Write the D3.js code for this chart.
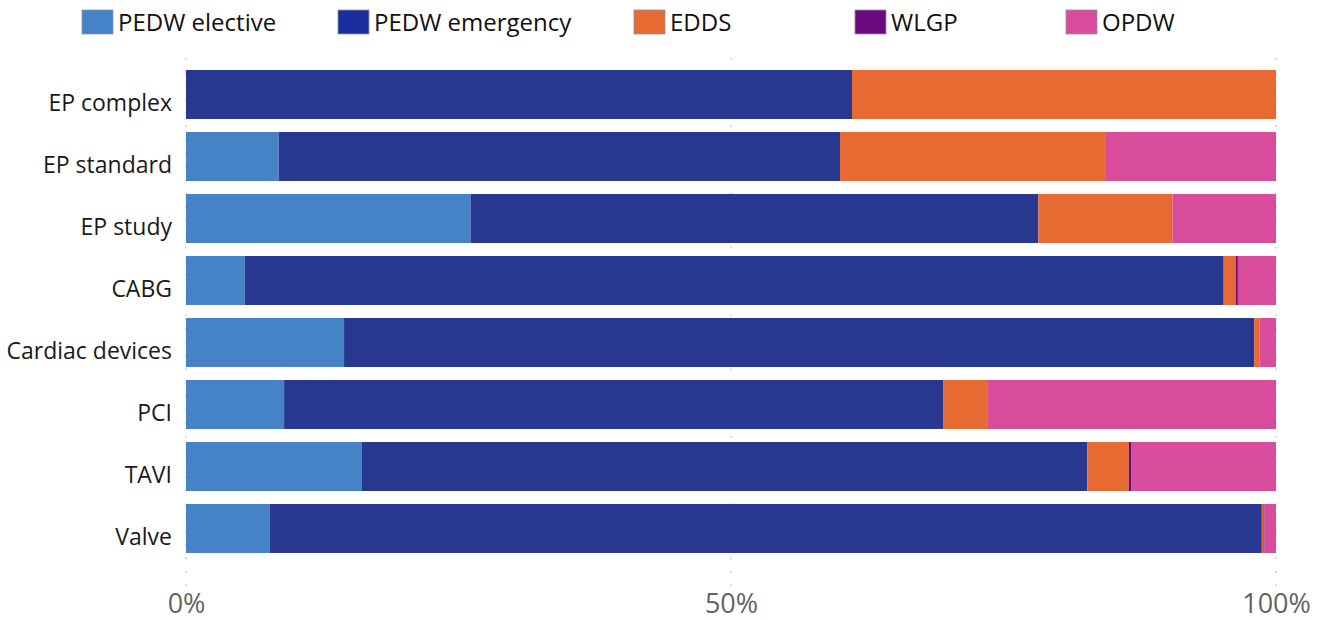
<!DOCTYPE html>
<html>
<head>
<meta charset="utf-8">
<script src="https://cdn.jsdelivr.net/npm/d3@7"></script>
<style>
  html, body { margin: 0; padding: 0; background: #ffffff; }
  svg { display: block; }
  text { font-family: "Open Sans", "Noto Sans", sans-serif; }
</style>
</head>
<body>
<svg id="chart" width="1325" height="620"></svg>
<script>
// Procedure groups (top to bottom)
const categories = ["EP complex", "EP standard", "EP study", "CABG", "Cardiac devices", "PCI", "TAVI", "Valve"];

// Share of records by data source, in percent
const pedwElective  = [0.0,  8.5, 26.1,  5.4, 14.5,  9.0, 16.1,  7.7];
const pedwEmergency = [61.1, 51.5, 52.1, 89.8, 83.5, 60.5, 66.6, 91.0];
const edds          = [38.9, 24.4, 12.3,  1.1,  0.5,  4.0,  3.8,  0.15];
const wlgp          = [0.0,  0.0,  0.0,  0.2,  0.0,  0.0,  0.25, 0.1];
const opdw          = [0.0, 15.6,  9.5,  3.5,  1.5, 26.5, 13.25, 1.05];

const seriesNames = ["PEDW elective", "PEDW emergency", "EDDS", "WLGP", "OPDW"];
const seriesColors = ["#4683c6", "#283891", "#e86a33", "#6a0a7e", "#d84c9b"];
const legendColors = ["#4683c6", "#1b2c9c", "#e86a33", "#6a0a7e", "#d84c9b"];
const tickValues = [0, 50, 100];
const tickLabels = ["0%", "50%", "100%"];

const table = categories.map((c, i) => ({
  category: c,
  "PEDW elective": pedwElective[i],
  "PEDW emergency": pedwEmergency[i],
  "EDDS": edds[i],
  "WLGP": wlgp[i],
  "OPDW": opdw[i]
}));

const svg = d3.select("#chart");

const x = d3.scaleLinear().domain([0, 100]).range([186, 1276]);
const y = d3.scaleBand().domain(categories).range([63.5, 559.5]).paddingInner(0.21).paddingOuter(0.105);
const color = d3.scaleOrdinal().domain(seriesNames).range(seriesColors);

// Dotted vertical gridlines
svg.append("g")
  .selectAll("line")
  .data(tickValues)
  .join("line")
  .attr("x1", d => x(d)).attr("x2", d => x(d))
  .attr("y1", 58).attr("y2", 592)
  .attr("stroke", "#c4c4c4")
  .attr("stroke-width", 1.5)
  .attr("stroke-dasharray", "1.5,12");

// Stacked bars
const stack = d3.stack().keys(seriesNames);
const layers = stack(table);

svg.append("g")
  .selectAll("g")
  .data(layers)
  .join("g")
  .attr("fill", d => color(d.key))
  .selectAll("rect")
  .data(d => d)
  .join("rect")
  .attr("x", d => x(d[0]))
  .attr("y", d => y(d.data.category))
  .attr("width", d => Math.max(0, x(d[1]) - x(d[0])))
  .attr("height", y.bandwidth());

// Category axis labels
const yAxis = d3.axisLeft(y).tickSize(0).tickPadding(14);
const gy = svg.append("g").attr("transform", "translate(186,0)").call(yAxis);
gy.select(".domain").remove();
gy.selectAll("text")
  .attr("font-size", 23)
  .attr("fill", "#1a1a1a")
  .attr("dy", 16)
  .style("font-family", "'Open Sans', 'Noto Sans', sans-serif");

// Percentage axis labels
const xAxis = d3.axisBottom(x).tickValues(tickValues).tickFormat((d, i) => tickLabels[i]).tickSize(0).tickPadding(0);
const gx = svg.append("g").attr("transform", "translate(0,613)").call(xAxis);
gx.select(".domain").remove();
gx.selectAll("text")
  .attr("font-size", 27)
  .attr("fill", "#636363")
  .attr("y", 0)
  .attr("dy", 0)
  .style("font-family", "'Open Sans', 'Noto Sans', sans-serif");

// Legend
const legendX = [82, 338, 634, 855, 1066];
const legend = svg.append("g")
  .selectAll("g")
  .data(seriesNames)
  .join("g")
  .attr("transform", (d, i) => `translate(${legendX[i]},10)`);

legend.append("rect")
  .attr("width", 31).attr("height", 24)
  .attr("fill", (d, i) => legendColors[i])
  .attr("stroke", "#8d93a8").attr("stroke-width", 0.8);

legend.append("text")
  .attr("x", 36).attr("y", 21)
  .attr("font-size", 24)
  .attr("fill", "#111111")
  .text(d => d);
</script>
</body>
</html>
